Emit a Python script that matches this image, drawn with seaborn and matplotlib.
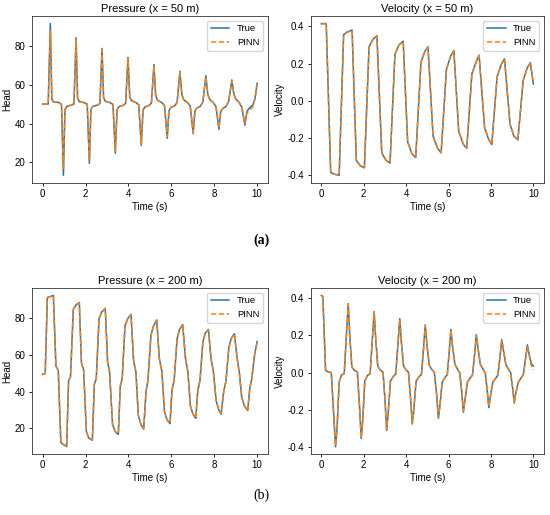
import numpy as np
import pandas as pd
import matplotlib
matplotlib.use("Agg")
import matplotlib.pyplot as plt
import seaborn as sns

# ---- Pressure at x = 50 m ----
t_p50 = [0.0, 0.26, 0.36, 0.43, 0.50, 0.75, 0.88, 0.97, 1.04, 1.12, 1.35,
         1.46, 1.56, 1.63, 1.71, 1.95, 2.08, 2.18, 2.25, 2.33, 2.55,
         2.67, 2.77, 2.84, 2.92, 3.15, 3.28, 3.39, 3.47, 3.55, 3.75,
         3.87, 3.98, 4.06, 4.14, 4.35, 4.48, 4.60, 4.68, 4.76, 4.95,
         5.07, 5.19, 5.27, 5.36, 5.55, 5.68, 5.81, 5.89, 5.98, 6.15,
         6.27, 6.40, 6.49, 6.58, 6.75, 6.88, 7.02, 7.10, 7.19, 7.35,
         7.47, 7.61, 7.70, 7.80, 7.95, 8.08, 8.22, 8.30, 8.40, 8.55,
         8.67, 8.82, 8.91, 9.01, 9.15, 9.28, 9.43, 9.52, 9.62, 9.80,
         9.90, 10.0]
p50_true = [50.0, 50.0, 91.4, 52.5, 51.2, 50.8, 49.8, 13.4, 47.0, 48.8, 49.5,
            50.0, 84.1, 53.0, 51.3, 50.7, 49.8, 19.5, 47.2, 48.8, 49.4,
            50.2, 78.6, 53.5, 51.5, 50.7, 49.8, 24.7, 47.0, 48.6, 49.3,
            50.3, 74.0, 54.0, 51.8, 50.8, 49.6, 28.8, 46.8, 48.5, 49.2,
            50.5, 70.3, 54.5, 52.0, 50.8, 49.3, 32.4, 46.5, 48.3, 49.0,
            50.8, 66.9, 55.0, 52.2, 50.8, 49.0, 34.8, 46.3, 48.0, 48.8,
            51.0, 64.6, 55.0, 52.3, 50.8, 48.8, 37.0, 46.0, 47.8, 48.8,
            51.2, 62.4, 55.5, 52.5, 51.0, 48.5, 39.1, 46.0, 47.8, 49.5,
            53.0, 60.7]
p50_pinn = [50.0, 50.0, 87.5, 52.0, 51.0, 50.9, 50.0, 16.5, 47.5, 48.6, 49.6,
            50.2, 83.0, 53.2, 51.0, 50.8, 50.0, 20.8, 47.5, 48.6, 49.5,
            50.3, 77.8, 53.3, 51.3, 50.8, 50.0, 25.8, 47.3, 48.5, 49.4,
            50.4, 73.2, 53.8, 51.6, 50.9, 49.8, 29.5, 47.0, 48.4, 49.3,
            50.6, 69.6, 54.3, 51.8, 50.9, 49.5, 33.2, 46.8, 48.2, 49.1,
            50.9, 66.2, 54.6, 52.0, 50.9, 49.2, 35.5, 46.5, 47.9, 48.9,
            51.1, 64.0, 54.6, 52.1, 50.9, 49.0, 37.6, 46.3, 47.6, 48.9,
            51.3, 61.8, 55.0, 52.3, 51.0, 48.6, 40.2, 45.2, 46.5, 48.5,
            52.5, 60.2]

# ---- Velocity at x = 50 m ----
t_v50 = [0.0, 0.23, 0.44, 0.62, 0.84, 1.05, 1.22, 1.45, 1.65, 1.84, 2.03,
         2.25, 2.43, 2.62, 2.85, 3.05, 3.24, 3.47, 3.66, 3.86, 4.07,
         4.27, 4.45, 4.70, 4.88, 5.03, 5.27, 5.48, 5.65, 5.90, 6.10,
         6.25, 6.48, 6.70, 6.86, 7.10, 7.32, 7.44, 7.70, 7.90, 8.04,
         8.29, 8.50, 8.64, 8.90, 9.08, 9.27, 9.52, 9.72, 9.86, 10.0]
v50_true = [0.415, 0.415, -0.385, -0.395, -0.40, 0.355, 0.37, 0.38, -0.32,
            -0.35, -0.36, 0.29, 0.33, 0.35, -0.28, -0.32, -0.335, 0.25,
            0.30, 0.32, -0.22, -0.285, -0.305, 0.21, 0.265, 0.29, -0.19,
            -0.255, -0.28, 0.17, 0.24, 0.27, -0.165, -0.235, -0.255, 0.145,
            0.215, 0.245, -0.145, -0.21, -0.235, 0.13, 0.20, 0.225, -0.125,
            -0.19, -0.21, 0.11, 0.18, 0.205, 0.09]
v50_pinn = [0.413, 0.413, -0.383, -0.394, -0.398, 0.352, 0.368, 0.378,
            -0.318, -0.348, -0.358, 0.288, 0.328, 0.348, -0.278, -0.318,
            -0.333, 0.248, 0.298, 0.318, -0.218, -0.283, -0.303, 0.208,
            0.263, 0.288, -0.188, -0.253, -0.278, 0.168, 0.238, 0.268,
            -0.163, -0.233, -0.253, 0.143, 0.213, 0.243, -0.143, -0.208,
            -0.233, 0.128, 0.198, 0.223, -0.123, -0.188, -0.208, 0.108,
            0.178, 0.20, 0.095]

# ---- Pressure at x = 200 m ----
t_p200 = [0.0, 0.12, 0.22, 0.36, 0.50, 0.62, 0.73, 0.85, 0.96, 1.12, 1.21,
          1.30, 1.43, 1.56, 1.71, 1.81, 1.91, 2.04, 2.15, 2.32, 2.41,
          2.50, 2.63, 2.75, 2.92, 3.03, 3.12, 3.26, 3.38, 3.53, 3.62,
          3.71, 3.84, 3.97, 4.12, 4.24, 4.35, 4.46, 4.58, 4.71, 4.82,
          4.91, 5.05, 5.17, 5.32, 5.44, 5.56, 5.68, 5.80, 5.94, 6.03,
          6.13, 6.27, 6.38, 6.53, 6.66, 6.77, 6.89, 7.01, 7.14, 7.23,
          7.34, 7.47, 7.58, 7.73, 7.85, 7.96, 8.09, 8.21, 8.32, 8.44,
          8.55, 8.68, 8.79, 8.94, 9.07, 9.17, 9.28, 9.41, 9.56, 9.66,
          9.75, 9.88, 10.0]
p200_true = [49.5, 49.8, 91.5, 92.0, 92.6, 54.0, 51.5, 12.0, 11.0, 9.8, 46.0,
             48.0, 85.0, 87.5, 88.7, 55.5, 52.0, 18.0, 14.5, 13.3, 44.0,
             47.0, 80.0, 83.5, 85.6, 56.0, 51.0, 22.0, 18.0, 16.5, 43.0,
             47.0, 76.0, 80.0, 82.3, 57.0, 50.5, 27.0, 22.0, 19.4, 40.0,
             46.0, 71.0, 76.0, 79.2, 58.0, 51.0, 29.0, 24.5, 22.4, 41.0,
             46.0, 69.0, 74.0, 76.7, 58.0, 51.0, 32.0, 27.5, 25.3, 40.0,
             46.5, 67.0, 72.0, 74.0, 58.0, 51.0, 35.0, 30.0, 27.5, 40.0,
             46.0, 64.0, 69.0, 71.6, 58.0, 50.5, 37.0, 32.0, 29.6, 42.0,
             47.0, 60.0, 67.4]
p200_pinn = [49.3, 49.7, 91.3, 91.9, 92.4, 54.2, 51.3, 12.3, 11.2, 10.2, 45.8,
             47.9, 84.8, 87.3, 88.5, 55.7, 51.8, 18.2, 14.7, 13.6, 43.8,
             46.9, 79.8, 83.3, 85.4, 56.2, 50.9, 22.2, 18.2, 16.8, 42.8,
             46.9, 75.8, 79.8, 82.1, 57.2, 50.4, 27.2, 22.2, 19.6, 39.8,
             45.9, 70.8, 75.8, 79.0, 58.2, 50.9, 29.2, 24.7, 22.6, 40.8,
             45.9, 68.8, 73.8, 76.5, 58.2, 50.9, 32.2, 27.7, 25.5, 39.8,
             46.4, 66.8, 71.8, 73.8, 58.2, 50.9, 35.2, 30.2, 27.7, 39.8,
             45.9, 63.8, 68.8, 71.4, 58.2, 50.4, 37.2, 32.2, 29.4, 41.8,
             46.8, 59.8, 67.0]

# ---- Velocity at x = 200 m ----
t_v200 = [0.0, 0.07, 0.20, 0.32, 0.47, 0.58, 0.67, 0.74, 0.84, 0.95, 1.08,
          1.18, 1.27, 1.34, 1.44, 1.56, 1.70, 1.80, 1.88, 1.95, 2.05,
          2.17, 2.30, 2.40, 2.49, 2.56, 2.66, 2.78, 2.91, 3.01, 3.08,
          3.15, 3.26, 3.39, 3.51, 3.61, 3.70, 3.77, 3.88, 4.00, 4.11,
          4.21, 4.29, 4.36, 4.47, 4.60, 4.72, 4.82, 4.90, 4.98, 5.09,
          5.21, 5.33, 5.44, 5.52, 5.59, 5.70, 5.83, 5.94, 6.03, 6.11,
          6.19, 6.30, 6.42, 6.53, 6.62, 6.70, 6.77, 6.89, 7.02, 7.13,
          7.23, 7.31, 7.39, 7.50, 7.62, 7.73, 7.82, 7.90, 7.97, 8.09,
          8.22, 8.33, 8.43, 8.51, 8.59, 8.70, 8.82, 8.93, 9.02, 9.10,
          9.17, 9.29, 9.41, 9.53, 9.63, 9.72, 9.80, 9.90, 10.0]
v200_true = [0.415, 0.41, 0.012, 0.005, 0.0, -0.22, -0.397, -0.30, -0.05,
             -0.012, -0.005, 0.20, 0.371, 0.20, 0.03, 0.012, 0.005, -0.18,
             -0.353, -0.26, -0.045, -0.015, -0.005, 0.17, 0.328, 0.19,
             0.035, 0.015, 0.003, -0.16, -0.311, -0.22, -0.045, -0.02,
             -0.007, 0.15, 0.29, 0.17, 0.035, 0.015, 0.003, -0.14, -0.275,
             -0.20, -0.045, -0.022, -0.01, 0.13, 0.257, 0.15, 0.04, 0.018,
             0.003, -0.12, -0.245, -0.18, -0.05, -0.025, -0.01, 0.11, 0.232,
             0.14, 0.045, 0.02, 0.0, -0.10, -0.212, -0.15, -0.05, -0.028,
             -0.012, 0.10, 0.205, 0.13, 0.045, 0.02, 0.0, -0.09, -0.187,
             -0.13, -0.05, -0.03, -0.012, 0.09, 0.178, 0.12, 0.045, 0.02,
             0.0, -0.08, -0.163, -0.11, -0.05, -0.03, -0.01, 0.075, 0.15,
             0.10, 0.05, 0.035]
v200_pinn = [0.413, 0.408, 0.010, 0.004, -0.002, -0.222, -0.392, -0.302,
             -0.052, -0.013, -0.006, 0.198, 0.366, 0.202, 0.031, 0.011,
             0.004, -0.182, -0.348, -0.262, -0.046, -0.016, -0.006, 0.168,
             0.324, 0.192, 0.036, 0.014, 0.002, -0.162, -0.307, -0.222,
             -0.046, -0.021, -0.008, 0.148, 0.287, 0.172, 0.036, 0.014,
             0.002, -0.142, -0.27, -0.202, -0.046, -0.023, -0.011, 0.128,
             0.253, 0.152, 0.041, 0.017, 0.002, -0.122, -0.24, -0.182,
             -0.051, -0.026, -0.011, 0.108, 0.228, 0.142, 0.046, 0.019,
             -0.001, -0.102, -0.207, -0.152, -0.051, -0.029, -0.013, 0.098,
             0.201, 0.132, 0.046, 0.019, -0.001, -0.092, -0.182, -0.132,
             -0.051, -0.031, -0.013, 0.088, 0.172, 0.122, 0.046, 0.019,
             -0.001, -0.082, -0.158, -0.112, -0.051, -0.031, -0.011, 0.072,
             0.138, 0.095, 0.040, 0.015]

head_ticks = [20, 40, 60, 80]
vel_ticks = [-0.4, -0.2, 0.0, 0.2, 0.4]
time_ticks = [0, 2, 4, 6, 8, 10]

panels = [
    ("Pressure (x = 50 m)", "Head", t_p50, p50_true, p50_pinn, head_ticks),
    ("Velocity (x = 50 m)", "Velocity", t_v50, v50_true, v50_pinn, vel_ticks),
    ("Pressure (x = 200 m)", "Head", t_p200, p200_true, p200_pinn, head_ticks),
    ("Velocity (x = 200 m)", "Velocity", t_v200, v200_true, v200_pinn, vel_ticks),
]

plt.rcParams['font.family'] = ['Liberation Sans', 'DejaVu Sans']
plt.rcParams['axes.unicode_minus'] = False
plt.rcParams['axes.linewidth'] = 0.6
plt.rcParams['axes.edgecolor'] = '#333333'
plt.rcParams['xtick.major.width'] = 0.6
plt.rcParams['ytick.major.width'] = 0.6
plt.rcParams['xtick.major.size'] = 2.5
plt.rcParams['ytick.major.size'] = 2.5

fig = plt.figure(figsize=(5.5, 5.15), dpi=100)
boxes = [
    [0.058, 0.645, 0.429, 0.324],
    [0.565, 0.645, 0.424, 0.324],
    [0.058, 0.118, 0.429, 0.323],
    [0.565, 0.118, 0.424, 0.323],
]

for box, (title, ylab, t, true_vals, pinn_vals, yt) in zip(boxes, panels):
    ax = fig.add_axes(box)
    df = pd.concat([
        pd.DataFrame({"Time (s)": t, "value": true_vals, "series": "True"}),
        pd.DataFrame({"Time (s)": t, "value": pinn_vals, "series": "PINN"}),
    ], ignore_index=True)
    sns.lineplot(data=df, x="Time (s)", y="value", hue="series",
                 style="series", palette={"True": "#1f77b4", "PINN": "#ff7f0e"},
                 dashes={"True": "", "PINN": (3.5, 1.6)}, estimator=None,
                 linewidth=1.1, ax=ax)
    ax.set_title(title, fontsize=8, pad=3)
    ax.set_xlabel("Time (s)", fontsize=7, labelpad=2)
    ax.set_ylabel(ylab, fontsize=7, labelpad=2)
    ax.set_xticks(time_ticks)
    ax.set_yticks(yt)
    ax.tick_params(labelsize=7, pad=2)
    sns.move_legend(ax, "upper right", title=None, fontsize=6.8, frameon=True)

fig.text(0.476, 1 - 240 / 515, "(a)", ha="center", va="center",
         fontsize=10, fontweight="bold", family="Liberation Serif")
fig.text(0.476, 1 - 495 / 515, "(b)", ha="center", va="center",
         fontsize=10, family="Liberation Serif")

fig.savefig("out.png", dpi=100)
